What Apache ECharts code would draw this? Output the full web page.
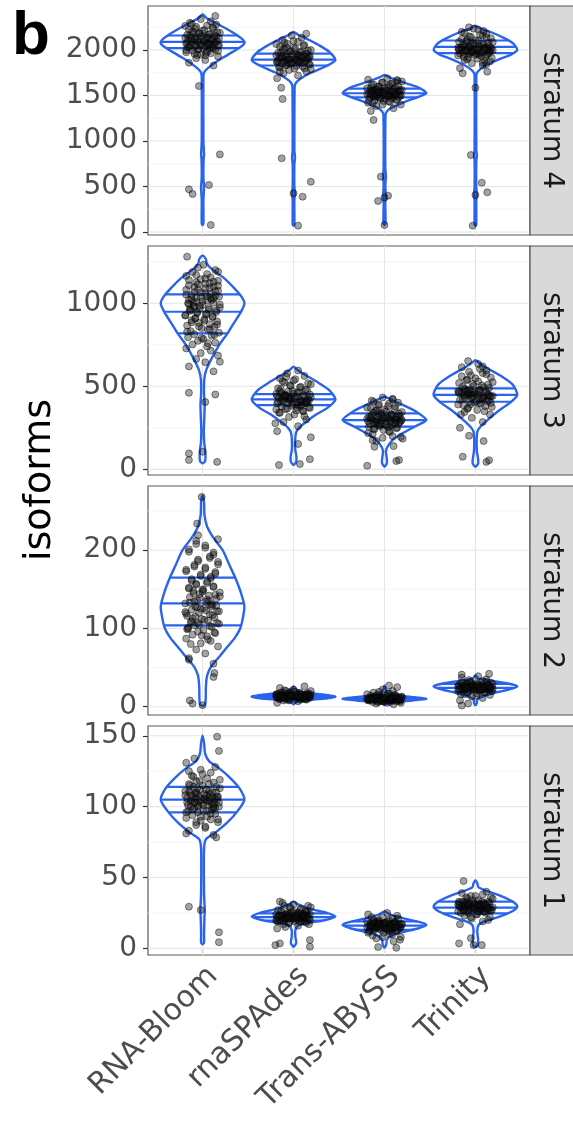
<!DOCTYPE html>
<html>
<head>
<meta charset="utf-8">
<script src="https://cdn.jsdelivr.net/npm/echarts@6/dist/echarts.min.js"></script>
<style>
  html, body { margin: 0; padding: 0; background: #fff; }
  #chart { width: 573px; height: 1123px; }
</style>
</head>
<body>
<div id="chart"></div>
<script>
// categories and facets (top panel first)
const methods = ['RNA-Bloom', 'rnaSPAdes', 'Trans-ABySS', 'Trinity'];
const strata = ['stratum 4', 'stratum 3', 'stratum 2', 'stratum 1'];

// y ranges and tick values per facet
const yMins = [-33, -34, -10.6, -4.7];
const yMaxs = [2484, 1345, 282, 156.9];
const majorTicks = [[0, 500, 1000, 1500, 2000], [0, 500, 1000], [0, 100, 200], [0, 50, 100, 150]];
const minorTicks = [[250, 750, 1250, 1750, 2250], [250, 750, 1250], [50, 150, 250], [25, 75, 125]];

// violin outlines: [value, relative density] from top to bottom, one per method
const s4Profiles = [
  [[2390,0],[2350,0.1],[2300,0.3],[2240,0.55],[2170,0.8],[2110,0.97],[2075,1],[2030,0.9],[1980,0.72],[1920,0.5],[1870,0.33],[1820,0.18],[1780,0.08],[1745,0.03],[1700,0.02],[1000,0.02],[900,0.03],[850,0.035],[800,0.025],[600,0.02],[500,0.035],[430,0.03],[350,0.02],[90,0.02],[77,0]],
  [[2200,0],[2165,0.12],[2128,0.3],[2055,0.6],[1981,0.85],[1890,1],[1840,0.85],[1798,0.66],[1750,0.42],[1707,0.24],[1660,0.1],[1625,0.04],[1580,0.025],[900,0.02],[820,0.035],[740,0.02],[500,0.02],[425,0.035],[350,0.02],[80,0.02],[70,0]],
  [[1725,0],[1700,0.12],[1652,0.4],[1600,0.75],[1560,0.92],[1524,1],[1480,0.78],[1432,0.5],[1390,0.28],[1359,0.14],[1320,0.05],[1286,0.025],[700,0.02],[610,0.035],[520,0.02],[420,0.03],[380,0.035],[330,0.02],[90,0.025],[77,0]],
  [[2267,0],[2235,0.12],[2201,0.35],[2128,0.7],[2073,0.9],[2000,1],[1950,0.85],[1908,0.62],[1860,0.38],[1817,0.2],[1780,0.09],[1745,0.03],[1700,0.02],[900,0.02],[846,0.035],[780,0.02],[500,0.02],[410,0.035],[340,0.02],[80,0.02],[70,0]]
];
const s3Profiles = [
  [[1287,0],[1265,0.08],[1240,0.1],[1210,0.2],[1150,0.52],[1090,0.76],[1040,0.93],[1000,1],[950,0.92],[870,0.72],[820,0.6],[750,0.4],[670,0.22],[600,0.09],[540,0.04],[460,0.035],[390,0.05],[300,0.04],[230,0.03],[160,0.04],[120,0.06],[80,0.07],[50,0.06],[36,0]],
  [[618,0],[600,0.09],[570,0.27],[530,0.54],[480,0.84],[420,1],[370,0.81],[330,0.54],[290,0.32],[250,0.13],[220,0.06],[180,0.04],[120,0.04],[75,0.07],[45,0.06],[26,0]],
  [[437,0],[420,0.16],[390,0.42],[350,0.74],[297,1],[260,0.74],[220,0.45],[180,0.21],[140,0.08],[110,0.035],[75,0.05],[40,0.06],[16,0]],
  [[658,0],[640,0.09],[610,0.27],[570,0.56],[510,0.89],[448,1],[400,0.82],[350,0.54],[300,0.3],[260,0.13],[230,0.05],[180,0.03],[110,0.035],[60,0.065],[35,0.065],[16,0]]
];
const s2Profiles = [
  [[270,0],[262,0.035],[245,0.045],[230,0.11],[215,0.27],[200,0.48],[180,0.65],[165,0.78],[145,0.92],[128,1],[110,0.95],[100,0.9],[88,0.77],[77,0.6],[65,0.42],[51,0.2],[40,0.11],[26,0.08],[10,0.075],[3,0.06],[1,0]],
  [[26,0],[22,0.05],[19,0.2],[16,0.62],[13,1],[11,0.85],[9,0.48],[7,0.16],[5,0.04],[3,0]],
  [[27,0],[22,0.03],[17,0.1],[14.5,0.35],[12,0.72],[10,1],[8,0.65],[6,0.27],[4,0.06],[2,0]],
  [[40,0],[36,0.07],[33,0.38],[30,0.75],[26,1],[22,0.8],[18,0.48],[14,0.22],[11,0.09],[8,0.035],[5,0.035],[2,0]]
];
const s1Profiles = [
  [[150,0],[145,0.035],[137,0.065],[132,0.16],[127,0.4],[120,0.67],[113,0.88],[105,1],[97,0.84],[89,0.6],[82,0.32],[77,0.08],[70,0.035],[40,0.035],[32,0.045],[27,0.055],[22,0.045],[10,0.035],[4,0.035],[3,0]],
  [[33,0],[31,0.11],[28,0.38],[25,0.8],[22.5,1],[20,0.76],[18,0.38],[16,0.11],[13,0.045],[8,0.045],[4,0.065],[1,0]],
  [[26,0],[24,0.13],[21,0.48],[18.5,0.85],[16.5,1],[14,0.8],[11.5,0.43],[9,0.16],[6,0.055],[3,0.045],[0.5,0]],
  [[48,0],[46,0.045],[43,0.075],[40,0.32],[37,0.6],[33,0.89],[29.5,1],[26,0.87],[22,0.54],[19,0.22],[16.5,0.075],[12,0.045],[6,0.065],[2,0.055],[1,0]]
];

// 25 / 50 / 75 % lines
const s4Quantiles = [[2020, 2090, 2160], [1830, 1895, 1960], [1480, 1525, 1575], [1965, 2035, 2105]];
const s3Quantiles = [[819, 949, 1054], [387, 421, 453], [257, 297, 337], [407, 448, 488]];
const s2Quantiles = [[104, 132, 165], [10, 12.5, 15], [8, 10, 12], [19, 24, 29]];
const s1Quantiles = [[96, 105, 114], [19.5, 22, 24.7], [13, 16, 19], [24.7, 28.7, 33]];

// jittered samples
const jitter = [0.12,-0.15,0.03,-0.07,0.17,-0.02,0.09,-0.18,0.05,-0.11,0.14,-0.05,0.01,-0.16,0.10,-0.09,0.18,-0.13,0.06,-0.01,0.13,-0.17,0.08,-0.04,0.16,-0.12,0.02,-0.08,0.11,-0.19,0.04,-0.06,0.15,-0.14,0.07,-0.03,0.19,-0.10,0.00,-0.15,0.12,-0.07,0.05,-0.12,0.09,-0.02,0.14,-0.18,0.03,-0.09,0.17,-0.05,0.08];

const s4Points = [
  [1830,1860,1890,1910,1930,1950,1965,1975,1985,1995,2005,2012,2020,2028,2035,2042,2050,2056,2062,2068,2074,2080,2086,2092,2098,2104,2110,2117,2124,2131,2138,2145,2153,2161,2170,2180,2190,2200,2212,2225,2240,2255,2270,2290,2315,2340,2374,2000,
   1940,1960,1990,2003,2015,2025,2033,2040,2047,2053,2058,2064,2070,2077,2083,2089,2095,2101,2107,2113,2120,2127,2134,2142,2150,2158,2166,2175,2185,2195,2205,2220,2235,2250,2265,1970,1945,2280,2300,2060],
  [1690,1720,1745,1765,1780,1795,1808,1820,1830,1840,1850,1858,1866,1874,1882,1890,1897,1904,1911,1918,1925,1932,1940,1948,1956,1964,1972,1980,1990,2000,2012,2025,2040,2055,2070,2090,2110,2135,2160,2180,1870,1900,1880,1920,1860,1935,
   1800,1815,1825,1835,1845,1853,1862,1868,1876,1884,1888,1893,1899,1906,1913,1921,1928,1936,1944,1952,1960,1968,1976,1985,1995,2005,2018,2030,2048,2065,1885,1895,1905,1915,1875,1850,1790,2080,2100,1760],
  [1360,1385,1400,1415,1428,1440,1450,1460,1468,1476,1484,1492,1500,1506,1512,1518,1524,1530,1536,1542,1548,1555,1562,1569,1576,1584,1592,1600,1610,1620,1632,1645,1660,1675,1690,1520,1510,1540,1500,1530,1550,1490,1480,1560,1535,1515,
   1420,1435,1445,1455,1463,1470,1478,1486,1494,1498,1503,1508,1514,1520,1526,1532,1538,1544,1551,1558,1565,1572,1580,1588,1596,1605,1615,1627,1640,1655,1522,1528,1518,1512,1533,1505,1495,1545,1400,1670],
  [1800,1830,1855,1875,1890,1905,1918,1930,1940,1950,1958,1966,1974,1982,1990,1998,2005,2012,2020,2028,2036,2044,2052,2060,2070,2080,2090,2102,2115,2130,2145,2160,2180,2200,2225,2250,2000,1980,2020,2010,1970,2040,1995,2060,1960,2030,
   1880,1898,1912,1925,1935,1945,1954,1962,1970,1978,1986,1993,2001,2008,2016,2024,2032,2040,2048,2056,2065,2075,2085,2096,2108,2122,2138,2152,2170,2190,2210,2235,2003,1997,2015,1985,2025,1975,1860,1845]
];
const s3Points = [
  [590,620,645,665,685,700,715,728,740,752,763,774,785,795,805,814,823,832,841,850,858,866,874,882,890,898,905,912,919,926,933,940,947,954,961,968,975,982,989,996,1003,1010,1017,1024,1031,1038,1045,1052,1060,1068,1076,1084,1092,1100,1108,1117,1126,1135,1145,1155,1165,1176,1188,1200,1215,1232,1000,1020,980,1040,960,
   760,790,810,828,845,860,872,885,895,908,918,928,938,948,958,965,972,985,993,1005,1013,1021,1029,1036,1043,1050,1057,1065,1073,1082,1090,1098,1106,1114,1122,1130,1140,1150,1170,1190],
  [230,260,285,300,315,330,342,352,362,370,378,386,393,400,406,412,418,424,430,436,442,448,454,461,468,476,484,493,502,512,523,535,548,562,578,595,420,410,430,400,440,390,450,415,425,380,
   320,340,355,365,375,383,390,397,403,409,415,421,427,433,439,445,451,458,465,472,480,488,497,507,518,530,543,557,350,360,372,398,405,412,419,426,434,444,456,470],
  [140,170,195,212,225,237,247,256,264,271,278,284,290,295,300,305,310,315,320,326,332,338,345,352,360,368,377,386,396,407,420,433,300,290,310,280,320,270,330,295,305,260,340,285,315,
   200,218,230,241,251,260,268,275,281,287,292,297,302,307,312,318,324,330,336,342,349,356,364,372,381,391,402,414,288,293,298,303,308,313,277,266,255,245,425,190],
  [250,285,310,330,345,358,370,380,390,399,407,415,422,429,436,442,448,454,460,466,473,480,487,494,502,511,520,530,541,553,566,580,596,615,635,450,440,460,430,470,420,480,445,455,410,
   330,350,365,375,386,395,403,411,418,425,432,439,445,451,457,463,469,476,483,490,498,506,515,525,536,548,560,573,588,605,435,441,447,453,459,465,472,400,392,620]
];
const s2Points = [
  [55,62,68,73,77,81,84,87,90,92,94,96,98,100,102,104,106,108,110,112,114,116,118,120,122,124,126,128,130,132,134,136,138,140,142,144,146,148,150,152,154,156,158,161,164,167,170,173,176,179,182,186,190,194,198,203,208,214,125,131,119,137,113,143,107,149,101,128,134,122,
   80,86,91,95,99,103,105,107,109,111,115,117,121,123,127,129,133,135,139,141,145,147,151,153,157,160,163,166,169,172,175,178,181,185,188,192,197,201,206,212],
  [5,7,8,9,9,10,10,11,11,12,12,12,13,13,13,13,14,14,14,15,15,15,16,16,17,17,18,18,19,20,21,22,24,26,13,12,14,11,15,10,16,13,12,14,
   8,9,10,10,11,11,11,12,12,12,12,13,13,13,13,13,14,14,14,14,15,15,15,16,16,17,17,18,19,20,12,13,14,11,15,13,12,14,16,10],
  [3,4,5,6,6,7,7,8,8,8,9,9,9,10,10,10,10,11,11,11,12,12,13,13,14,14,15,16,17,18,20,22,25,10,9,11,8,12,10,9,11,
   5,6,7,7,8,8,8,9,9,9,9,10,10,10,10,10,11,11,11,11,12,12,12,13,13,14,15,16,17,19,9,10,11,8,12,10,11,9,13,7],
  [8,11,13,15,16,17,18,19,20,20,21,21,22,22,23,23,24,24,25,25,25,26,26,27,27,28,28,29,30,31,32,33,35,37,39,25,24,26,23,27,22,28,24,26,
   14,16,18,19,20,21,21,22,22,23,23,24,24,24,25,25,25,26,26,26,27,27,28,28,29,29,30,31,32,34,23,24,25,26,27,22,28,24,25,30]
];
const s1Points = [
  [80,83,85,87,89,90,91,92,93,94,95,96,97,97,98,99,100,100,101,102,102,103,104,104,105,105,106,106,107,108,108,109,110,110,111,112,113,114,115,116,117,118,120,122,124,126,128,131,105,103,107,101,109,99,111,
   86,89,91,93,95,96,97,98,99,100,101,101,102,103,103,104,104,105,105,106,106,107,107,108,109,109,110,111,112,113,114,115,116,118,119,121,123,125,100,110],
  [14,16,17,18,18,19,19,20,20,20,21,21,21,22,22,22,22,23,23,23,24,24,24,25,25,26,26,27,28,29,30,31,33,22,21,23,20,24,22,25,19,21,
   15,17,18,19,19,20,20,21,21,21,22,22,22,22,23,23,23,23,24,24,24,25,25,26,26,27,28,29,30,32,22,21,23,20,24,22,21,23,19,25],
  [5,7,8,9,10,11,12,12,13,13,14,14,14,15,15,15,16,16,16,16,17,17,17,18,18,18,19,19,20,20,21,22,23,24,25,16,15,17,14,18,16,13,19,
   6,8,10,11,12,13,13,14,14,14,15,15,15,15,16,16,16,16,17,17,17,17,18,18,18,19,19,20,21,22,15,16,17,14,18,16,15,17,13,19],
  [17,19,21,22,23,24,25,25,26,26,27,27,28,28,28,29,29,29,30,30,30,31,31,32,32,33,33,34,35,36,37,38,40,29,28,30,27,31,26,32,29,33,
   20,22,24,25,26,26,27,27,28,28,28,29,29,29,29,30,30,30,31,31,31,32,32,33,33,34,35,36,37,39,29,28,30,27,31,29,28,30,26,32]
];

// stray samples: [offset from method centre, value]
const s4Outliers = [
  [[-0.04,1604],[0.19,853],[0.07,516],[-0.15,469],[-0.11,418],[0.09,77]],
  [[-0.135,1586],[-0.12,1462],[-0.13,810],[0.19,553],[0.1,388],[0,425],[0.05,70]],
  [[-0.15,1330],[-0.12,1231],[-0.04,608],[-0.07,341],[0.04,399],[0,378],[0,77]],
  [[-0.14,1744],[0.13,1762],[0,1586],[-0.05,846],[0.07,542],[0.13,436],[0,407],[-0.03,70]]
];
const s3Outliers = [
  [[-0.17,1281],[0.19,648],[-0.15,461],[0.14,451],[0.03,405],[-0.15,96],[-0.15,56],[0.16,45],[0,106]],
  [[-0.16,26],[0.07,32],[0.18,61],[0.19,193],[0.05,153],[-0.2,277]],
  [[-0.19,22],[0.13,50],[0.16,56],[-0.11,136],[-0.13,175],[0.2,185]],
  [[-0.08,652],[-0.14,76],[0.12,45],[0.15,55],[0.09,170],[-0.07,202]]
];
const s2Outliers = [
  [[-0.01,268],[-0.06,234],[-0.05,219],[-0.15,60],[0.12,38],[0.13,43],[-0.14,8],[-0.11,4],[0,2]],
  [],
  [[0.05,27]],
  [[-0.15,41],[0.15,42],[-0.15,1.5],[-0.08,4]]
];
const s1Outliers = [
  [[0.16,149.4],[0.18,139.3],[-0.09,134],[-0.18,81],[0.15,78.3],[-0.15,29.4],[-0.02,27],[0.18,11.3],[0.18,4.3]],
  [[-0.2,2.3],[-0.15,3.5],[0.18,5.8],[0.18,1.1]],
  [[-0.07,0.9],[0.13,0.4]],
  [[-0.13,47.5],[-0.18,3.5],[-0.05,7.1],[0.07,2.3],[-0.02,2.3]]
];

const profiles = [s4Profiles, s3Profiles, s2Profiles, s1Profiles];
const quantiles = [s4Quantiles, s3Quantiles, s2Quantiles, s1Quantiles];
const points = [s4Points, s3Points, s2Points, s1Points];
const outliers = [s4Outliers, s3Outliers, s2Outliers, s1Outliers];

// layout
const gridLeft = 148, gridWidth = 382, panelHeight = 229;
const panelTops = [6, 246, 486, 726];
const halfWidth = 0.46;
const violinBlue = '#2a64ec';
const font = 'DejaVu Sans';

var chart = echarts.init(document.getElementById('chart'));

// density at a value, linear between outline points
function widthAt(profile, v) {
  for (let j = 0; j < profile.length - 1; j++) {
    const a = profile[j], b = profile[j + 1];
    if (v <= a[0] && v >= b[0]) {
      const t = (a[0] - v) / (a[0] - b[0]);
      return a[1] + (b[1] - a[1]) * t;
    }
  }
  return 0;
}

function gridLineItem(params, api) {
  const cs = params.coordSys;
  const kind = api.value(0), v = api.value(1);
  let shape;
  if (kind === 2) {
    const x = api.coord([v, 0])[0];
    shape = { x1: x, y1: cs.y, x2: x, y2: cs.y + cs.height };
  } else {
    const y = api.coord([1, v])[1];
    shape = { x1: cs.x, y1: y, x2: cs.x + cs.width, y2: y };
  }
  return {
    type: 'line', shape: shape,
    style: { stroke: kind === 1 ? '#f2f2f2' : '#e6e6e6', lineWidth: kind === 1 ? 0.8 : 1.1 }
  };
}

function violinItem(s) {
  return function (params, api) {
    const k = api.value(0);
    const prof = profiles[s][params.dataIndex];
    const left = prof.map(p => api.coord([k - p[1] * halfWidth, p[0]]));
    const right = prof.filter(p => p[1] > 0).reverse().map(p => api.coord([k + p[1] * halfWidth, p[0]]));
    const children = [{
      type: 'polygon',
      shape: { points: left.concat(right), smooth: 0.25 },
      style: { fill: 'none', stroke: violinBlue, lineWidth: 2.4, lineJoin: 'round' }
    }];
    quantiles[s][params.dataIndex].forEach(q => {
      const w = widthAt(prof, q) * halfWidth;
      const a = api.coord([k - w, q]), b = api.coord([k + w, q]);
      children.push({
        type: 'line',
        shape: { x1: a[0], y1: a[1], x2: b[0], y2: b[1] },
        style: { stroke: violinBlue, lineWidth: 2.2 }
      });
    });
    return { type: 'group', children: children };
  };
}

const series = [];
strata.forEach((name, s) => {
  const lines = majorTicks[s].map(v => [0, v])
    .concat(minorTicks[s].map(v => [1, v]))
    .concat(methods.map((m, g) => [2, g + 1]));
  series.push({
    type: 'custom', xAxisIndex: s, yAxisIndex: s, z: 1, silent: true,
    renderItem: gridLineItem, data: lines
  });
  series.push({
    type: 'custom', xAxisIndex: s, yAxisIndex: s, z: 2, silent: true,
    renderItem: violinItem(s),
    data: methods.map((m, g) => [g + 1, quantiles[s][g][1]])
  });
  let pts = [];
  methods.forEach((m, g) => {
    points[s][g].forEach((v, i) => pts.push([g + 1 + jitter[(i + 7 * g) % jitter.length], v]));
    outliers[s][g].forEach(o => pts.push([g + 1 + o[0], o[1]]));
  });
  series.push({
    type: 'scatter', xAxisIndex: s, yAxisIndex: s, z: 3, silent: true,
    symbolSize: 7,
    itemStyle: { color: 'rgba(15,15,15,0.48)', borderColor: 'rgba(0,0,0,0.6)', borderWidth: 0.9 },
    data: pts
  });
});

const graphics = [];
strata.forEach((name, s) => {
  graphics.push({
    type: 'rect', z: 5,
    shape: { x: gridLeft + gridWidth, y: panelTops[s], width: 60, height: panelHeight },
    style: { fill: '#d9d9d9', stroke: '#555', lineWidth: 1.2 }
  });
  graphics.push({
    type: 'text', z: 6,
    x: gridLeft + gridWidth + 21, y: panelTops[s] + panelHeight / 2,
    rotation: -Math.PI / 2,
    style: { text: name, fontSize: 28, fontFamily: font, fill: '#1a1a1a', align: 'center', verticalAlign: 'middle' }
  });
});
graphics.push({
  type: 'text', x: 40, y: 480, rotation: Math.PI / 2,
  style: { text: 'isoforms', fontSize: 38, fontFamily: font, fill: '#000', align: 'center', verticalAlign: 'middle' }
});
graphics.push({
  type: 'text', x: 12, y: 37,
  style: { text: 'b', fontSize: 62, fontWeight: 'bold', fontFamily: 'Liberation Sans', fill: '#000', align: 'left', verticalAlign: 'middle' }
});

chart.setOption({
  animation: false,
  textStyle: { fontFamily: font },
  grid: strata.map((n, s) => ({
    left: gridLeft, width: gridWidth, top: panelTops[s], height: panelHeight,
    show: true, backgroundColor: '#fff', borderColor: '#5a5a5a', borderWidth: 1.2
  })),
  xAxis: strata.map((n, s) => ({
    gridIndex: s, type: 'value', min: 0.4, max: 4.6,
    axisLine: { show: false },
    splitLine: { show: false },
    axisTick: { show: s === 3, customValues: [1, 2, 3, 4], length: 5, lineStyle: { color: '#333', width: 1.2 } },
    axisLabel: {
      show: s === 3, customValues: [1, 2, 3, 4],
      formatter: v => methods[Math.round(v) - 1],
      rotate: 45, align: 'right', verticalAlign: 'top', margin: 6,
      fontSize: 30, fontFamily: font, color: '#4d4d4d'
    }
  })),
  yAxis: strata.map((n, s) => ({
    gridIndex: s, type: 'value', min: yMins[s], max: yMaxs[s],
    axisLine: { show: false },
    splitLine: { show: false },
    axisTick: { show: true, customValues: majorTicks[s], length: 5, lineStyle: { color: '#333', width: 1.2 } },
    axisLabel: {
      customValues: majorTicks[s], formatter: v => String(v),
      margin: 11, fontSize: 28, fontFamily: font, color: '#4d4d4d'
    }
  })),
  graphic: graphics,
  series: series
});
</script>
</body>
</html>
